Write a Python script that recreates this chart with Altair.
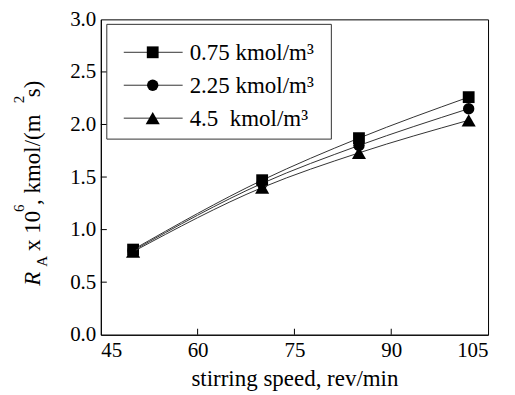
import altair as alt
import pandas as pd

speed = [50, 70, 85, 102]
s1 = [0.81, 1.47, 1.87, 2.26]
s2 = [0.80, 1.44, 1.80, 2.15]
s3 = [0.79, 1.40, 1.73, 2.04]
series_labels = ["0.75 kmol/m\u00b3", "2.25 kmol/m\u00b3", "4.5\u00a0\u00a0kmol/m\u00b3"]
shapes = ["square", "circle", "triangle-up"]
sizes = [140, 130, 200]
x_ticks = [45, 60, 75, 90, 105]
y_ticks = [0.0, 0.5, 1.0, 1.5, 2.0, 2.5, 3.0]

W, H = 388, 316
FONT = "Liberation Serif"
FS = 21

xs = alt.Scale(domain=[45, 105])
ys = alt.Scale(domain=[0, 3])

layers = []
for vals, lab, shp, sz in zip([s1, s2, s3], series_labels, shapes, sizes):
    df = pd.DataFrame({"speed": speed, "rate": vals, "series": lab})
    base = alt.Chart(df).encode(
        x=alt.X("speed:Q", scale=xs,
                axis=alt.Axis(values=x_ticks, title="stirring speed, rev/min", ticks=False, grid=False,
                              labelPadding=5, titleY=51, titleBaseline="alphabetic", titleFontSize=23)),
        y=alt.Y("rate:Q", scale=ys,
                axis=alt.Axis(values=y_ticks, format=".1f", title=None, ticks=False, grid=False,
                              labelPadding=5)),
    )
    layers.append(base.mark_line(interpolate="monotone", color="#333333", strokeWidth=1))
    layers.append(base.mark_point(shape=shp, filled=True, color="black", size=sz, opacity=1))

# inward ticks
xt = pd.DataFrame({"t": x_ticks[1:-1]})
layers.append(alt.Chart(xt).mark_rule(color="black", strokeWidth=1).encode(
    x=alt.X("t:Q", scale=xs), y=alt.value(H), y2=alt.value(H - 6)))
yt = pd.DataFrame({"t": y_ticks[1:-1]})
layers.append(alt.Chart(yt).mark_rule(color="black", strokeWidth=1).encode(
    y=alt.Y("t:Q", scale=ys), x=alt.value(0), x2=alt.value(6)))

# legend box
layers.append(alt.Chart(pd.DataFrame({"a": [0]})).mark_rect(fill="white", stroke="#333333", strokeWidth=1).encode(
    x=alt.value(6), x2=alt.value(231), y=alt.value(5), y2=alt.value(120)))
row_y = [33, 66, 99]
for i, (lab, shp, sz) in enumerate(zip(series_labels, shapes, sizes)):
    d = pd.DataFrame({"label": [lab]})
    layers.append(alt.Chart(d).mark_rule(color="#333333", strokeWidth=1).encode(
        x=alt.value(23), x2=alt.value(82), y=alt.value(row_y[i])))
    layers.append(alt.Chart(d).mark_point(shape=shp, filled=True, color="black", size=sz, opacity=1).encode(
        x=alt.value(52), y=alt.value(row_y[i])))
    layers.append(alt.Chart(d).mark_text(font=FONT, fontSize=23, align="left", baseline="middle", color="black").encode(
        x=alt.value(89), y=alt.value(row_y[i] + 1), text="label:N"))

# y-axis title pieces: (text, fontSize, italic, x, y)
title_pieces = [
    ("R", 23, True, -68, 267),
    ("A", 15, False, -59, 248),
    ("x 10", 23, False, -68, 232),
    ("6", 15, False, -82, 193),
    (", kmol/(m", 23, False, -68, 186),
    ("2", 15, False, -82, 84),
    ("s)", 23, False, -68, 78),
]
for j, (txt, fs, it, px, py) in enumerate(title_pieces):
    d = pd.DataFrame({"t": [txt]})
    layers.append(alt.Chart(d).mark_text(font=FONT, fontSize=fs, fontStyle="italic" if it else "normal",
                                         angle=270, align="left", baseline="middle", color="black").encode(
        x=alt.value(px), y=alt.value(py), text="t:N"))

chart = alt.layer(*layers).properties(
    width=W, height=H,
    background="white",
    autosize=alt.AutoSizeParams(type="none"),
    padding={"left": 93, "top": 11, "right": 19, "bottom": 56},
).configure_view(stroke="black", strokeWidth=1).configure_axis(
    domainColor="black", domainWidth=1, labelFont=FONT, labelFontSize=FS, labelColor="black",
    titleFont=FONT, titleFontSize=FS, titleColor="black", titleFontWeight="normal",
)

chart.save("out.html", embed_options={"renderer": "svg", "actions": False})
